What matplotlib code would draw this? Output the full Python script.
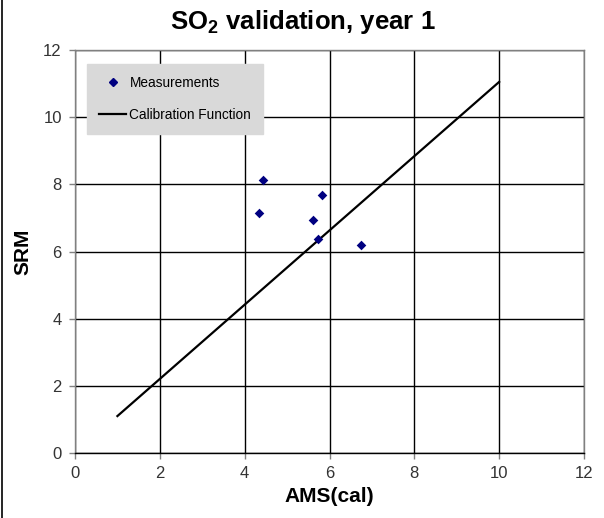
import matplotlib
matplotlib.use("Agg")
import matplotlib.pyplot as plt
from matplotlib.lines import Line2D

ams_cal = [4.43, 5.83, 4.34, 5.61, 5.73, 6.74]
srm = [8.12, 7.68, 7.16, 6.95, 6.36, 6.18]

# calibration function end points
calib_x = [1.0, 10.0]
calib_y = [1.10, 11.05]

ticks = [0, 2, 4, 6, 8, 10, 12]

plt.rcParams["font.family"] = ["Liberation Sans", "DejaVu Sans"]
plt.rcParams["mathtext.fontset"] = "custom"
plt.rcParams["mathtext.bf"] = "Liberation Sans:bold"
plt.rcParams["mathtext.rm"] = "Liberation Sans:bold"

fig = plt.figure(figsize=(6.04, 5.18), dpi=100)
ax = fig.add_axes([75 / 604, 65 / 518, 509 / 604, 403 / 518])

ax.plot(calib_x, calib_y, color="black", lw=1.6, zorder=3)
ax.scatter(ams_cal, srm, marker="D", s=24, color="#000080", zorder=4,
           linewidths=0)

ax.set_xlim(0, 12)
ax.set_ylim(0, 12)
ax.set_xticks(ticks)
ax.set_yticks(ticks)
ax.grid(True, color="black", lw=1.0)
ax.set_axisbelow(True)
for s in ax.spines.values():
    s.set_color("#808080")
    s.set_linewidth(1.0)
ax.spines["bottom"].set_color("black")
ax.tick_params(axis="both", direction="out", length=4.5, width=1,
               color="#808080", labelsize=12, labelcolor="#333333", pad=5)

ax.set_xlabel("AMS(cal)", fontsize=15, fontweight="bold", labelpad=4)
ax.set_ylabel("SRM", fontsize=15, fontweight="bold", labelpad=8)
fig.text(0.502, 0.957, r"SO$_\mathrm{2}$ validation, year 1", ha="center",
         va="center", fontsize=18.5, fontweight="bold")

handles = [
    Line2D([], [], marker="D", color="#000080", ls="none", markersize=4.5),
    Line2D([], [], color="black", lw=1.6),
]
leg = ax.legend(handles, ["Measurements", "Calibration Function"],
                loc="upper left", bbox_to_anchor=(12 / 509, 1 - 14 / 403),
                frameon=True, fancybox=False, fontsize=9.8, labelspacing=1.3,
                handlelength=2.0, handletextpad=0.22, borderpad=0.9,
                borderaxespad=0)
leg.get_frame().set_facecolor("#d9d9d9")
leg.get_frame().set_edgecolor("#d9d9d9")
leg.get_frame().set_alpha(1)

# left border of the original screenshot
fig.add_artist(Line2D([0.003, 0.003], [0, 1], color="black", lw=1.2))

fig.savefig("out.png", dpi=100)
